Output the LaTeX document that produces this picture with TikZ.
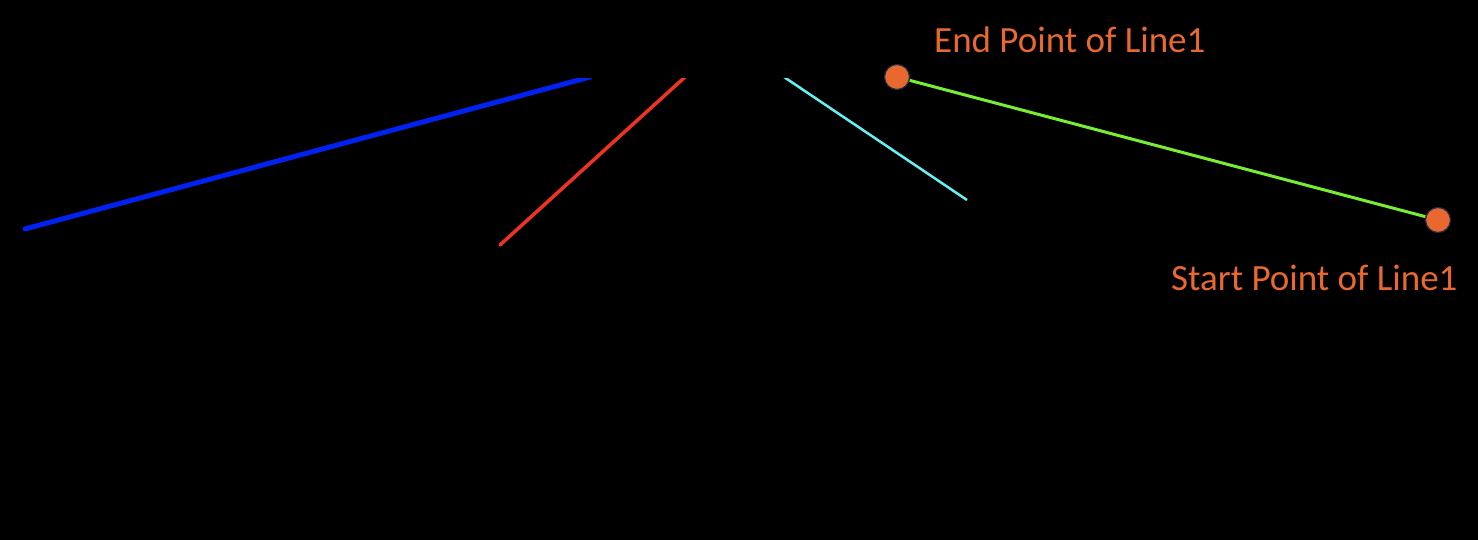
\documentclass[tikz,border=0pt]{standalone}
\usepackage{fontspec}
\setmainfont{Carlito}
\definecolor{ptorange}{HTML}{E8682F}
\definecolor{ptedge}{HTML}{1F2D4A}
\definecolor{lblue}{HTML}{0022F0}
\definecolor{lred}{HTML}{EE3322}
\definecolor{lcyan}{HTML}{66F0F0}
\definecolor{lgreen}{HTML}{77EE33}
\tikzset{
  ptdot/.style={circle, fill=ptorange, draw=ptedge, line width=1.2pt, minimum size=25pt, inner sep=0pt},
  ptlabel/.style={text=ptorange, font=\fontsize{37}{44}\selectfont, inner sep=0pt, anchor=base west},
}
\begin{document}
\begin{tikzpicture}[x=1pt,y=-1pt]
\fill[black] (0,0) rectangle (1478,540);
\useasboundingbox (0,0) rectangle (1478,540);
\begin{scope}
\clip (0,79) rectangle (1478,540);
\coordinate (b1) at (25,229);
\coordinate (b2) at (590,77);
\coordinate (r1) at (500,245);
\coordinate (r2) at (685,77);
\coordinate (c1) at (967,200);
\coordinate (c2) at (784,77);
\draw[lblue, line width=5pt, line cap=round] (b1) -- (b2);
\draw[lred, line width=3.5pt, line cap=round] (r1) -- (r2);
\draw[lcyan, line width=2.5pt] (c1) -- (c2);
\end{scope}
\node[ptdot] (endp) at (897,77) {};
\node[ptdot] (startp) at (1438,220) {};
\draw[lgreen, line width=3pt] (startp) -- (endp);
\node[ptlabel] (endl) at (934,53) {End Point of Line1};
\node[ptlabel] (startl) at (1171,290) {Start Point of Line1};
\end{tikzpicture}
\end{document}
